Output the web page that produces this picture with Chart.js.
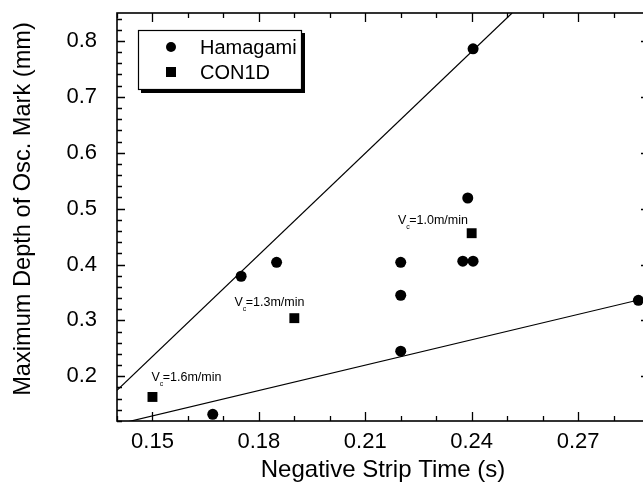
<!DOCTYPE html>
<html lang="en">
<head>
  <meta charset="UTF-8" />
  <title>Oscillation Mark Depth vs Negative Strip Time</title>
  <script src="https://cdn.jsdelivr.net/npm/chart.js"></script>
  <style>
    html, body { margin: 0; padding: 0; background: #fff; overflow: hidden; }
    /* the frame's right edge falls just outside the visible area */
    .plot-wrap { width: 643px; height: 485px; overflow: hidden; }
    canvas { display: block; }
  </style>
</head>
<body>
  <div class="plot-wrap">
    <canvas id="depthChart" width="656" height="485"></canvas>
  </div>
  <script>
    // measured points: negative strip time (s) and max mark depth (mm)
    const hamagamiTime  = [0.167, 0.175, 0.185, 0.220, 0.220, 0.220, 0.2375, 0.2389, 0.2404, 0.2404, 0.287];
    const hamagamiDepth = [0.132, 0.379, 0.404, 0.404, 0.345, 0.245, 0.406, 0.519, 0.406, 0.786, 0.336];
    const con1dTime  = [0.150, 0.190, 0.240];
    const con1dDepth = [0.163, 0.304, 0.456];

    // trend lines, end points
    const upperLineTime  = [0.14, 0.2514];
    const upperLineDepth = [0.175, 0.85];
    const lowerLineTime  = [0.14, 0.29];
    const lowerLineDepth = [0.114, 0.341];

    const xTicks = [0.15, 0.18, 0.21, 0.24, 0.27];
    const yTicks = [0.2, 0.3, 0.4, 0.5, 0.6, 0.7, 0.8];

    // casting speed notes
    const speedText  = ["=1.6m/min", "=1.3m/min", "=1.0m/min"];
    const speedTime  = [0.1497, 0.1731, 0.2192];
    const speedDepth = [0.192, 0.326, 0.4725];

    const FONT = "'Liberation Sans', Arial, sans-serif";
    const toPoints = (xs, ys) => xs.map((x, i) => ({ x: x, y: ys[i] }));
    const isMajor = (list, v) => list.some(t => Math.abs(t - v) < 1e-6);

    // box with inward ticks, y title, legend and speed notes
    const framePlugin = {
      id: 'frame',
      afterDatasetsDraw(chart) {
        const { ctx, chartArea: a, scales: { x, y } } = chart;
        ctx.save();
        ctx.strokeStyle = '#000';
        ctx.lineWidth = 1.6;
        ctx.strokeRect(a.left, a.top, a.right - a.left, a.bottom - a.top);

        ctx.lineWidth = 1.3;
        ctx.beginPath();
        for (let i = 0; i <= 15; i++) {
          const v = 0.14 + i * 0.01;
          const px = Math.round(x.getPixelForValue(v)) + 0.5;
          const len = isMajor(xTicks, v) ? 9 : 5;
          ctx.moveTo(px, a.bottom); ctx.lineTo(px, a.bottom - len);
          ctx.moveTo(px, a.top); ctx.lineTo(px, a.top + len);
        }
        for (let i = 0; i <= 36; i++) {
          const v = 0.12 + i * 0.02;
          const py = Math.round(y.getPixelForValue(v)) + 0.5;
          const len = isMajor(yTicks, v) ? 8 : 5;
          ctx.moveTo(a.left, py); ctx.lineTo(a.left + len, py);
          ctx.moveTo(a.right, py); ctx.lineTo(a.right - len, py);
        }
        ctx.stroke();

        // y axis title
        ctx.fillStyle = '#000';
        ctx.save();
        ctx.translate(23, 209);
        ctx.rotate(-Math.PI / 2);
        ctx.font = '23.6px ' + FONT;
        ctx.textAlign = 'center';
        ctx.textBaseline = 'middle';
        ctx.fillText('Maximum Depth of Osc. Mark (mm)', 0, 0);
        ctx.restore();

        // legend
        ctx.fillRect(141, 33, 164, 60);
        ctx.fillStyle = '#fff';
        ctx.fillRect(138, 30, 164, 60);
        ctx.lineWidth = 1.2;
        ctx.strokeRect(138.5, 30.5, 163, 59);
        ctx.fillStyle = '#000';
        ctx.beginPath();
        ctx.arc(171, 47, 5, 0, Math.PI * 2);
        ctx.fill();
        ctx.fillRect(166, 67, 10, 10);
        ctx.font = '20px ' + FONT;
        ctx.textBaseline = 'middle';
        ctx.fillText('Hamagami', 200, 48);
        ctx.fillText('CON1D', 200, 73);

        // V_c labels
        ctx.textBaseline = 'alphabetic';
        speedText.forEach((t, i) => {
          const px = x.getPixelForValue(speedTime[i]);
          const py = y.getPixelForValue(speedDepth[i]);
          ctx.font = '12.5px ' + FONT;
          ctx.fillText('V', px, py);
          const w = ctx.measureText('V').width;
          ctx.fillText(t, px + w + 3, py);
          ctx.font = '7px ' + FONT;
          ctx.fillText('c', px + w, py + 5);
        });
        ctx.restore();
      }
    };

    new Chart(document.getElementById('depthChart'), {
      type: 'scatter',
      data: {
        datasets: [
          {
            label: 'upper',
            data: toPoints(upperLineTime, upperLineDepth),
            showLine: true, pointRadius: 0, borderColor: '#000', borderWidth: 1.2
          },
          {
            label: 'lower',
            data: toPoints(lowerLineTime, lowerLineDepth),
            showLine: true, pointRadius: 0, borderColor: '#000', borderWidth: 1.2
          },
          {
            label: 'Hamagami',
            data: toPoints(hamagamiTime, hamagamiDepth),
            pointStyle: 'circle', pointRadius: 5.5,
            backgroundColor: '#000', borderColor: '#000', borderWidth: 0
          },
          {
            label: 'CON1D',
            data: toPoints(con1dTime, con1dDepth),
            pointStyle: 'rect', pointRadius: 7,
            backgroundColor: '#000', borderColor: '#000', borderWidth: 0
          }
        ]
      },
      options: {
        responsive: false,
        animation: false,
        devicePixelRatio: 1,
        layout: { padding: { top: 13, left: 0, right: 0, bottom: 0 } },
        plugins: { legend: { display: false }, tooltip: { enabled: false } },
        scales: {
          x: {
            type: 'linear', min: 0.14, max: 0.29,
            grid: { display: false, drawTicks: false },
            border: { display: false },
            afterBuildTicks: s => { s.ticks = xTicks.map(v => ({ value: v })); },
            afterFit: s => { s.height = 64; s.paddingLeft = 0; s.paddingRight = 0; },
            ticks: {
              autoSkip: false, maxRotation: 0, padding: 8, color: '#000',
              font: { family: FONT, size: 22 },
              callback: v => v.toFixed(2)
            },
            title: {
              display: true, text: 'Negative Strip Time (s)', color: '#000',
              font: { family: FONT, size: 24 }, padding: 0
            }
          },
          y: {
            type: 'linear', min: 0.12, max: 0.85,
            grid: { display: false, drawTicks: false },
            border: { display: false },
            afterBuildTicks: s => { s.ticks = yTicks.map(v => ({ value: v })); },
            afterFit: s => { s.width = 117; s.paddingTop = 0; s.paddingBottom = 0; },
            ticks: {
              autoSkip: false, padding: 20, color: '#000',
              font: { family: FONT, size: 22 },
              callback: v => v.toFixed(1)
            },
            title: { display: false }
          }
        }
      },
      plugins: [framePlugin]
    });
  </script>
</body>
</html>
